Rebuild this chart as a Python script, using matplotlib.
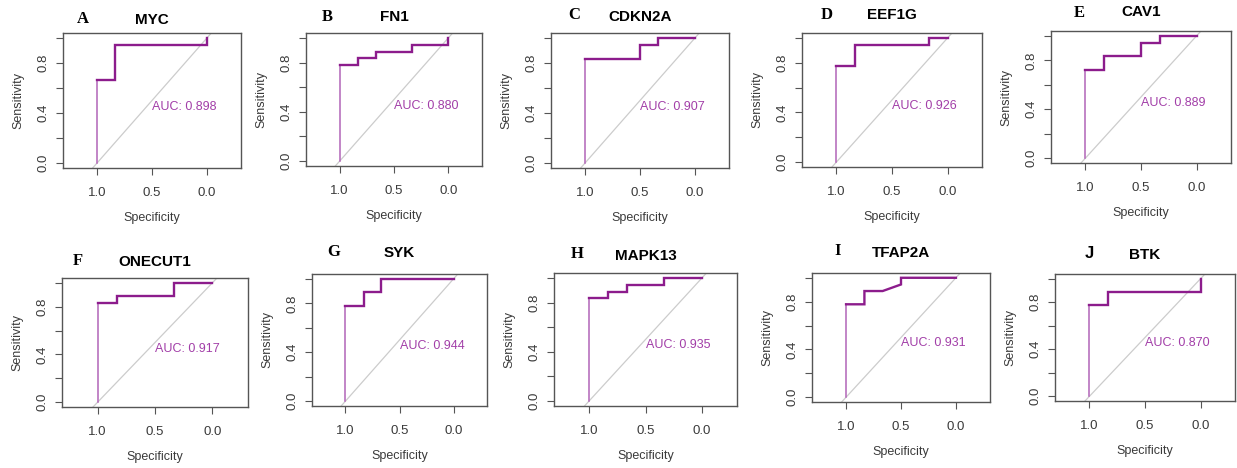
import matplotlib.pyplot as plt

W, H = 1237, 468

genes = ["MYC", "FN1", "CDKN2A", "EEF1G", "CAV1",
         "ONECUT1", "SYK", "MAPK13", "TFAP2A", "BTK"]
letters = ["A", "B", "C", "D", "E", "F", "G", "H", "I", "J"]
auc = [0.898, 0.880, 0.907, 0.926, 0.889, 0.917, 0.944, 0.935, 0.931, 0.870]

# ROC steps (specificity, sensitivity)
myc_spec = [1.0, 1.0, 0.833, 0.833, 0.0, 0.0]
myc_sens = [0.0, 0.667, 0.667, 0.944, 0.944, 1.0]
fn1_spec = [1.0, 1.0, 0.833, 0.833, 0.667, 0.667, 0.333, 0.333, 0.0, 0.0]
fn1_sens = [0.0, 0.778, 0.778, 0.833, 0.833, 0.889, 0.889, 0.944, 0.944, 1.0]
cdkn2a_spec = [1.0, 1.0, 0.5, 0.5, 0.333, 0.333, 0.0]
cdkn2a_sens = [0.0, 0.833, 0.833, 0.944, 0.944, 1.0, 1.0]
eef1g_spec = [1.0, 1.0, 0.833, 0.833, 0.167, 0.167, 0.0]
eef1g_sens = [0.0, 0.778, 0.778, 0.944, 0.944, 1.0, 1.0]
cav1_spec = [1.0, 1.0, 0.833, 0.833, 0.5, 0.5, 0.333, 0.333, 0.0]
cav1_sens = [0.0, 0.722, 0.722, 0.833, 0.833, 0.944, 0.944, 1.0, 1.0]
onecut1_spec = [1.0, 1.0, 0.833, 0.833, 0.333, 0.333, 0.0]
onecut1_sens = [0.0, 0.833, 0.833, 0.889, 0.889, 1.0, 1.0]
syk_spec = [1.0, 1.0, 0.833, 0.833, 0.667, 0.667, 0.0]
syk_sens = [0.0, 0.778, 0.778, 0.889, 0.889, 1.0, 1.0]
mapk13_spec = [1.0, 1.0, 0.833, 0.833, 0.667, 0.667, 0.333, 0.333, 0.0]
mapk13_sens = [0.0, 0.833, 0.833, 0.889, 0.889, 0.944, 0.944, 1.0, 1.0]
tfap2a_spec = [1.0, 1.0, 0.833, 0.833, 0.667, 0.5, 0.5, 0.0]
tfap2a_sens = [0.0, 0.778, 0.778, 0.889, 0.889, 0.944, 1.0, 1.0]
btk_spec = [1.0, 1.0, 0.833, 0.833, 0.0, 0.0]
btk_sens = [0.0, 0.778, 0.778, 0.889, 0.889, 1.0]

curves = [(myc_spec, myc_sens), (fn1_spec, fn1_sens), (cdkn2a_spec, cdkn2a_sens),
          (eef1g_spec, eef1g_sens), (cav1_spec, cav1_sens),
          (onecut1_spec, onecut1_sens), (syk_spec, syk_sens),
          (mapk13_spec, mapk13_sens), (tfap2a_spec, tfap2a_sens),
          (btk_spec, btk_sens)]

# layout in pixels: plot box (left, top, right, bottom), letter (x, y), title y
boxes = [(63, 33, 241, 168), (306, 33, 482, 166), (551, 33, 729, 168),
         (802, 33, 982, 167), (1051, 31, 1231, 163),
         (62, 278, 248, 407), (312, 274, 487, 406), (554, 273, 737, 406),
         (812, 273, 990, 402), (1055, 274, 1235, 401)]
letter_pos = [(83, 19), (327, 17), (574, 15), (827, 15), (1079, 13),
              (78, 261), (334, 252), (577, 254), (838, 251), (1089, 253)]
title_y = [20, 17, 17, 15, 12, 262, 253, 256, 253, 255]

SANS = "Liberation Sans"
SERIF = "Liberation Serif"
PURPLE = "#8c1c8c"
PURPLE_LIGHT = "#b264b8"
AUC_COL = "#a23ea8"
TXT = "#3a3a3a"


def fx(px):
    return px / W


def fy(py):
    return 1 - py / H


fig = plt.figure(figsize=(W / 100, H / 100), dpi=100)
fig.patch.set_facecolor("white")

for i, gene in enumerate(genes):
    l, t, r, b = boxes[i]
    ax = fig.add_axes([fx(l), fy(b), (r - l) / W, (b - t) / H])
    spec, sens = curves[i]

    ax.axline((1, 0), (0, 1), color="#cccccc", lw=0.9, zorder=1)
    # first rise at specificity 1 looks thinner in the original
    ax.plot(spec[:2], sens[:2], color=PURPLE_LIGHT, lw=1.1, zorder=2)
    ax.plot(spec[1:], sens[1:], color=PURPLE, lw=1.7,
            solid_joinstyle="miter", zorder=3)
    ax.text(0.5, 0.5, "AUC: %.3f" % auc[i], color=AUC_COL, fontsize=9,
            family=SANS, ha="left", va="top")

    ax.set_xlim(1.31, -0.31)
    ax.set_ylim(-0.04, 1.04)
    ax.set_xticks([1.0, 0.5, 0.0])
    ax.set_xticklabels(["1.0", "0.5", "0.0"])
    ax.set_yticks([0.0, 0.2, 0.4, 0.6, 0.8, 1.0])
    ax.set_yticklabels(["0.0", "", "0.4", "", "0.8", ""])
    ax.tick_params(axis="both", direction="out", length=5, width=0.8,
                   color="#555555", labelsize=9.5, labelcolor=TXT)
    ax.tick_params(axis="x", pad=9)
    ax.tick_params(axis="y", pad=5)
    for lab in ax.get_yticklabels():
        lab.set_rotation(90)
        lab.set_va("center")
        lab.set_family(SANS)
    for lab in ax.get_xticklabels():
        lab.set_family(SANS)
    for sp in ax.spines.values():
        sp.set_color("#555555")
        sp.set_linewidth(1.0)

    cx = (l + r) / 2
    cy = (t + b) / 2
    fig.text(fx(cx), fy(b + 50), "Specificity", fontsize=9, family=SANS,
             color=TXT, ha="center", va="center")
    fig.text(fx(l - 45), fy(cy), "Sensitivity", fontsize=9, family=SANS,
             color=TXT, ha="center", va="center", rotation=90)
    fig.text(fx(cx), fy(title_y[i]), gene, fontsize=11, family=SANS,
             weight="bold", color="black", ha="center", va="center")
    lx, ly = letter_pos[i]
    fig.text(fx(lx), fy(ly), letters[i], fontsize=12,
             family=SANS if letters[i] == "J" else SERIF,
             weight="bold", color="black", ha="center", va="center")

fig.savefig("out.png", dpi=100, facecolor="white")
